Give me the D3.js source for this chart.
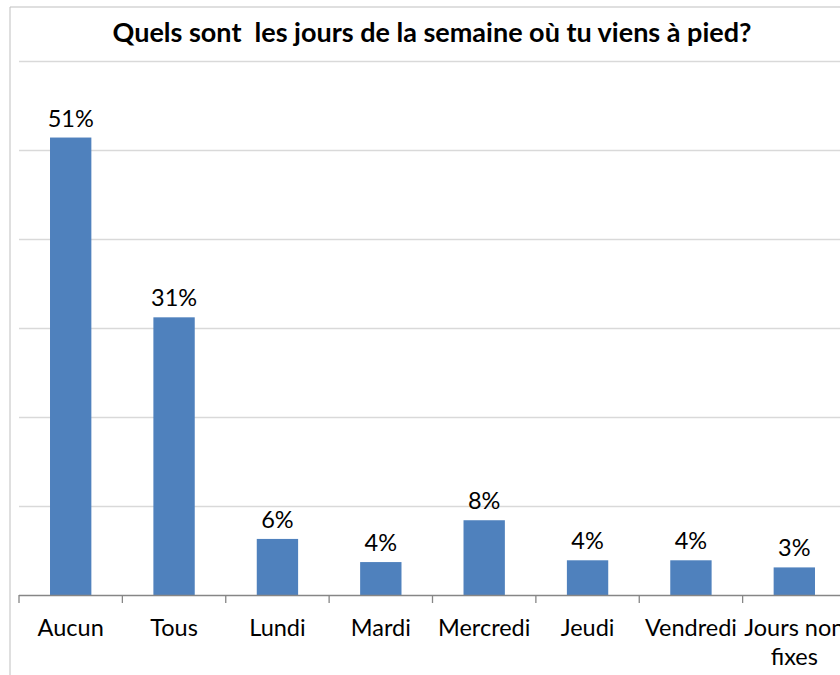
<!DOCTYPE html>
<html>
<head>
<meta charset="utf-8">
<script src="https://cdn.jsdelivr.net/npm/d3@7"></script>
<style>
  body { margin: 0; background: #fff; }
  svg { display: block; font-family: Lato, "Open Sans", sans-serif; }
</style>
</head>
<body>
<div id="chart"></div>
<script>
// Data
const categories = ["Aucun", "Tous", "Lundi", "Mardi", "Mercredi", "Jeudi", "Vendredi", "Jours non fixes"];
const values = [51.4, 31.2, 6.3, 3.7, 8.4, 3.9, 3.9, 3.1];
const labels = ["51%", "31%", "6%", "4%", "8%", "4%", "4%", "3%"];
const yTicks = [0, 10, 20, 30, 40, 50, 60];

const width = 840;
const height = 675;
const marginTop = 61;
const marginBottom = 80;
const marginLeft = 19;
const plotRight = 846;

const data = categories.map((c, i) => ({ cat: c, value: values[i], label: labels[i] }));

const svg = d3.select("#chart").append("svg")
    .attr("width", width)
    .attr("height", height)
    .attr("viewBox", [0, 0, width, height]);

// Outer chart frame (only top and left edges visible)
svg.append("path")
    .attr("d", `M10,${height}V7H${width}`)
    .attr("fill", "none")
    .attr("stroke", "#bfbfbf")
    .attr("stroke-width", 1);

const x = d3.scaleBand()
    .domain(categories)
    .range([marginLeft, plotRight])
    .paddingInner(0.6)
    .paddingOuter(0.3);

const y = d3.scaleLinear()
    .domain([0, 60])
    .range([height - marginBottom, marginTop]);

// Horizontal gridlines
svg.append("g")
    .selectAll("line")
    .data(yTicks.filter(d => d > 0))
    .join("line")
      .attr("x1", marginLeft)
      .attr("x2", width)
      .attr("y1", d => Math.round(y(d)) + 0.5)
      .attr("y2", d => Math.round(y(d)) + 0.5)
      .attr("stroke", "#d9d9d9")
      .attr("stroke-width", 1.3);

// Title
svg.append("text")
    .attr("x", 432)
    .attr("y", 42)
    .attr("text-anchor", "middle")
    .attr("font-weight", "bold")
    .attr("font-size", 27)
    .attr("fill", "#000")
    .style("white-space", "pre")
    .text("Quels sont  les jours de la semaine où tu viens à pied?");

// Bars
svg.append("g")
    .attr("fill", "#4f81bd")
  .selectAll("rect")
  .data(data)
  .join("rect")
    .attr("x", d => x(d.cat))
    .attr("y", d => y(d.value))
    .attr("width", x.bandwidth())
    .attr("height", d => y(0) - y(d.value));

// Value labels
svg.append("g")
    .attr("font-size", 23.5)
    .attr("fill", "#000")
    .attr("text-anchor", "middle")
  .selectAll("text")
  .data(data)
  .join("text")
    .attr("x", d => x(d.cat) + x.bandwidth() / 2)
    .attr("y", d => y(d.value) - 11)
    .text(d => d.label);

// X axis with category boundary ticks
const step = x.step();
const boundaries = d3.range(categories.length + 1).map(i => marginLeft + i * step);
const axis = svg.append("g");
axis.append("line")
    .attr("x1", marginLeft)
    .attr("x2", width)
    .attr("y1", y(0) + 0.5)
    .attr("y2", y(0) + 0.5)
    .attr("stroke", "#868686")
    .attr("stroke-width", 1.3);
axis.selectAll(".tick")
  .data(boundaries)
  .join("line")
    .attr("class", "tick")
    .attr("x1", d => d)
    .attr("x2", d => d)
    .attr("y1", y(0))
    .attr("y2", y(0) + 8)
    .attr("stroke", "#868686")
    .attr("stroke-width", 1.3);

// Category labels (wrapped like the original)
const wrap = { "Jours non fixes": ["Jours non", "fixes"] };
axis.selectAll(".cat")
  .data(categories)
  .join("text")
    .attr("class", "cat")
    .attr("text-anchor", "middle")
    .attr("font-size", 23.5)
    .attr("fill", "#000")
    .attr("transform", d => `translate(${x(d) + x.bandwidth() / 2},${y(0) + 41})`)
  .selectAll("tspan")
  .data(d => wrap[d] || [d])
  .join("tspan")
    .attr("x", 0)
    .attr("dy", (d, i) => i === 0 ? 0 : 29)
    .text(d => d);
</script>
</body>
</html>
